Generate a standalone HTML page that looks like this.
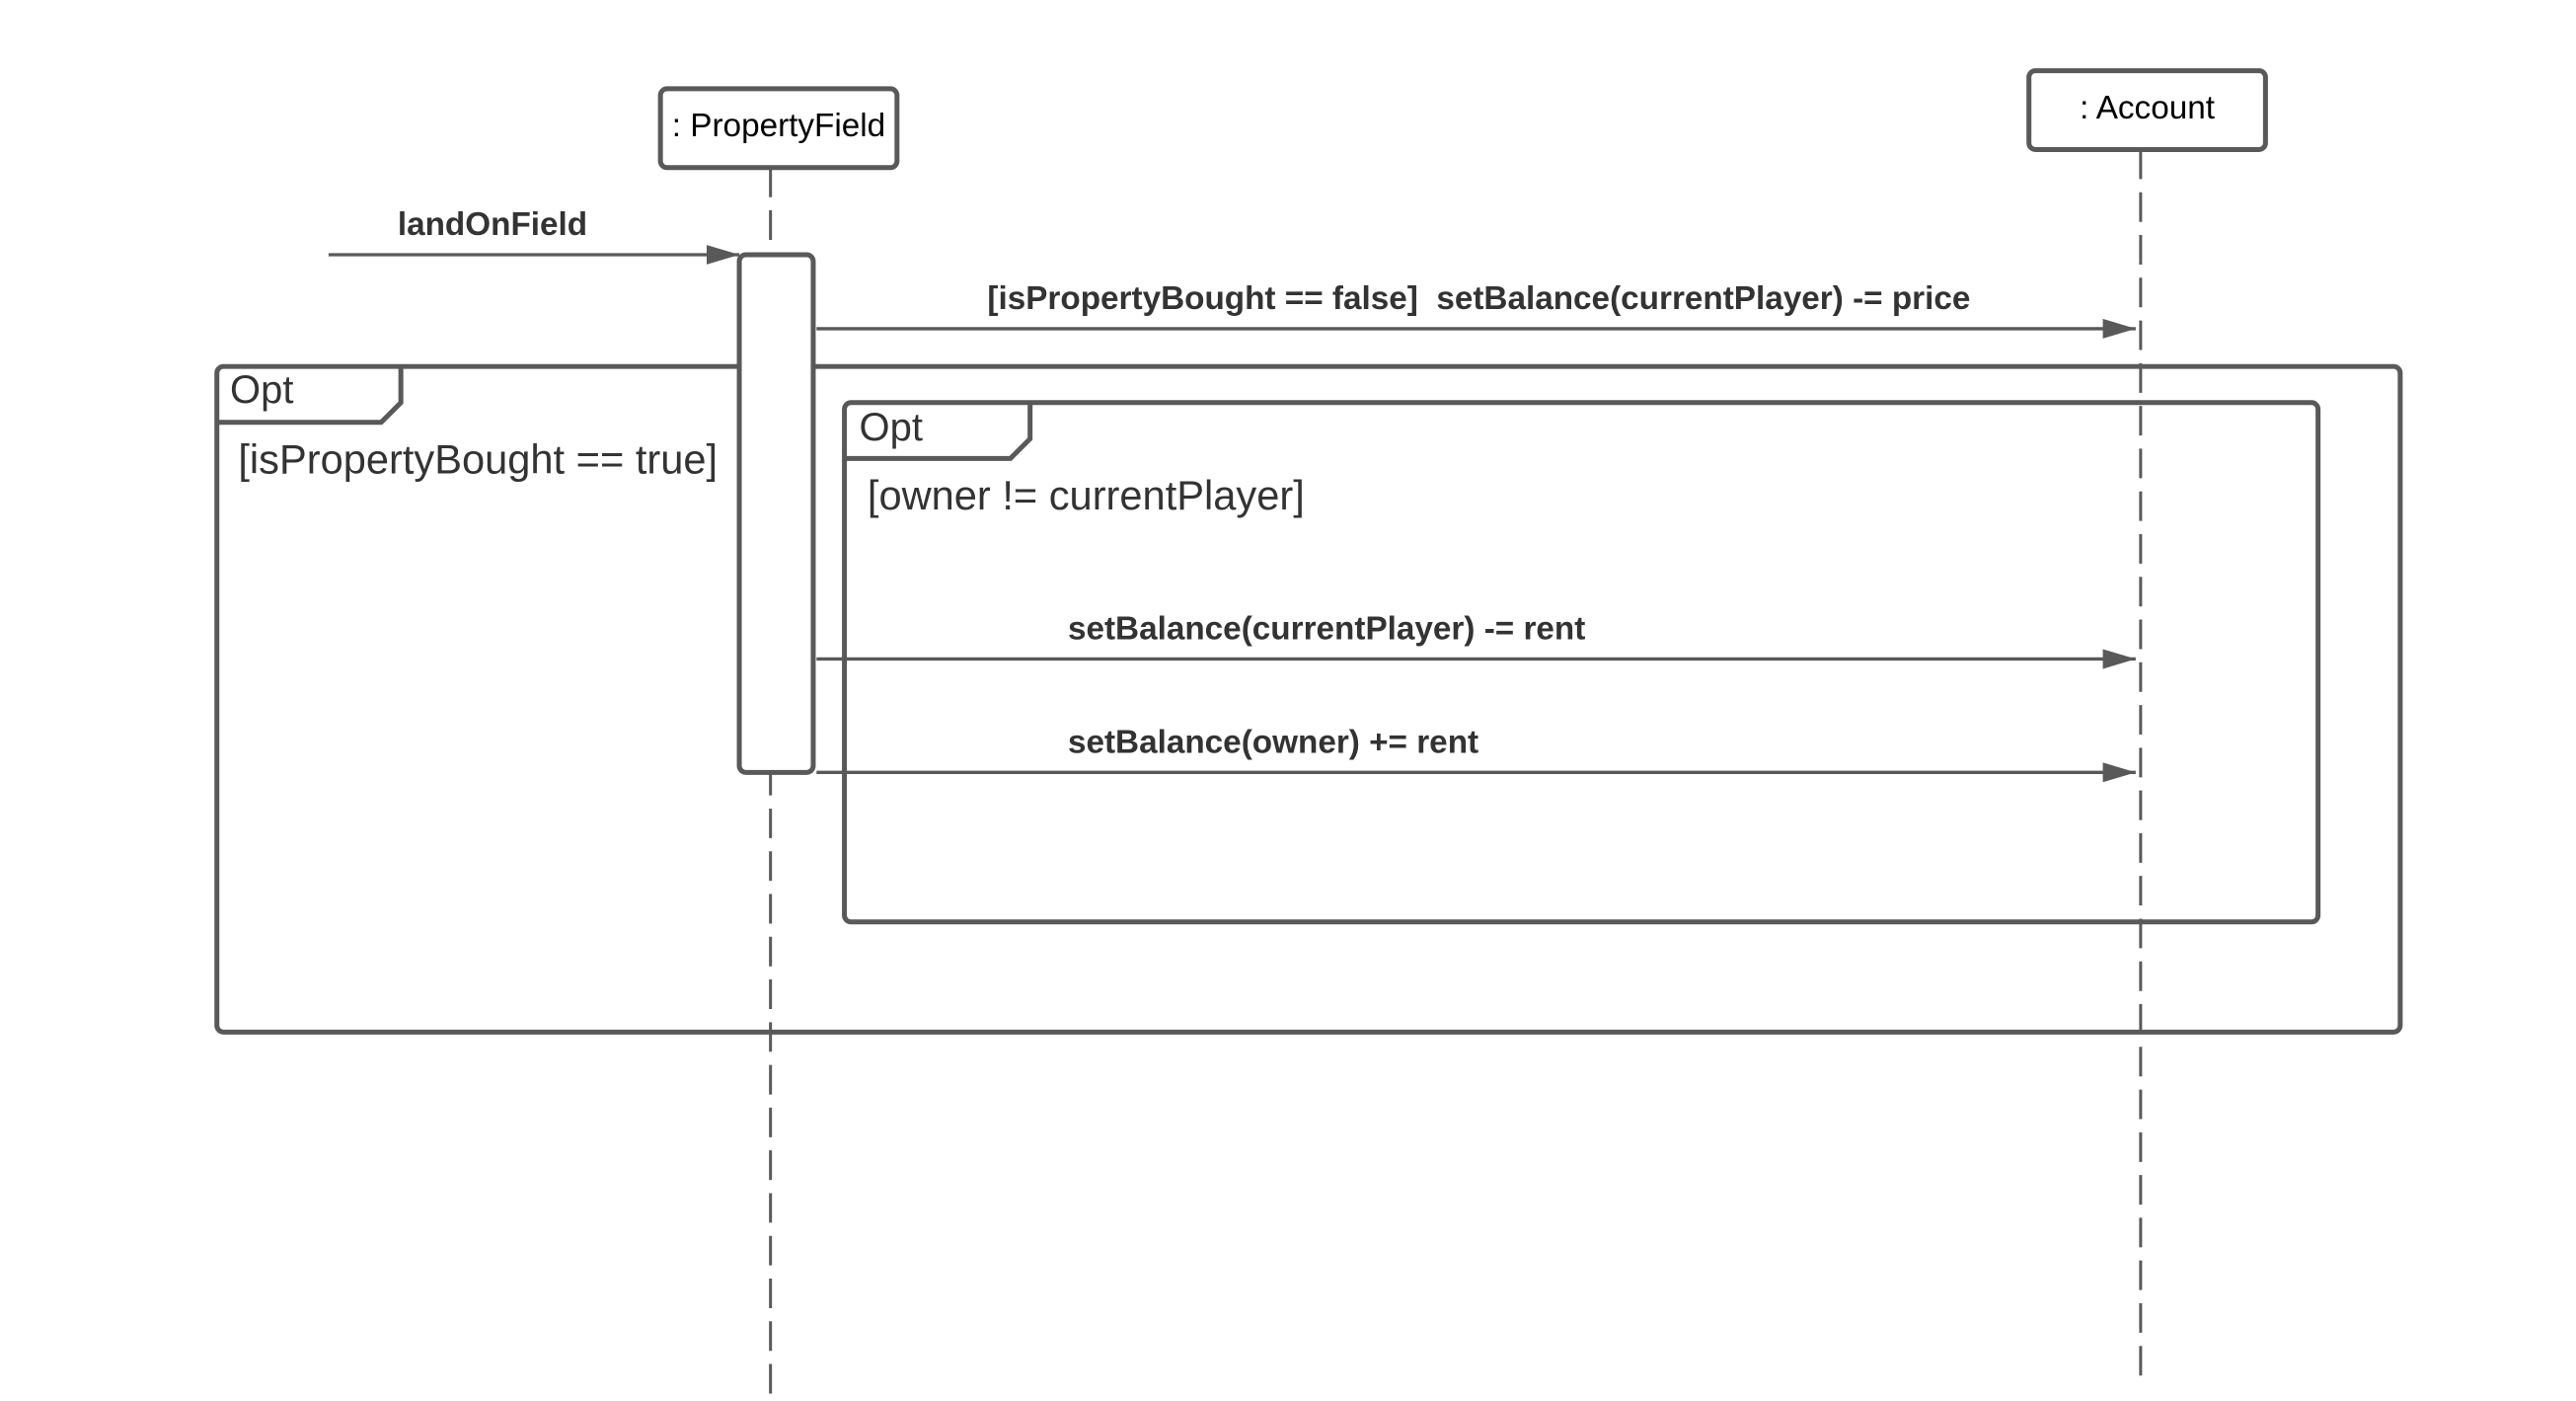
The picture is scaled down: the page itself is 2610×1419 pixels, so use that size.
<!DOCTYPE html>
<html><head><meta charset="utf-8"><style>html,body{margin:0;padding:0;background:#fff}svg{display:block}</style></head>
<body>
<svg width="2610" height="1419" viewBox="0 0 1568 852.5" xmlns="http://www.w3.org/2000/svg" font-family="Liberation Sans, sans-serif">
<defs>
<marker id="b" markerWidth="20" markerHeight="12" refX="20" refY="6" orient="auto" markerUnits="userSpaceOnUse"><path d="M0,0 L20,6 L0,12 z" fill="#595959"/></marker></defs>
<g stroke="#595959" fill="none">
<line x1="469" y1="102" x2="469" y2="852" stroke-width="1.8" stroke-dasharray="18,8"/>
<line x1="1303" y1="91" x2="1303" y2="845" stroke-width="1.8" stroke-dasharray="18,8"/>
<rect x="402" y="54" width="144" height="48" rx="4" stroke-width="3" fill="#fff"/>
<rect x="1235" y="43" width="144" height="48" rx="4" stroke-width="3" fill="#fff"/>
<rect x="132" y="223" width="1329" height="405" rx="4" stroke-width="3"/>
<path d="M132,257 H232 L244,245 V223" stroke-width="3"/>
<rect x="514" y="245" width="897" height="316" rx="4" stroke-width="3"/>
<path d="M514,279 H615 L627,267 V245" stroke-width="3"/>
<rect x="450" y="155" width="45" height="315" rx="4" stroke-width="3" fill="#fff"/>
<line x1="200" y1="155" x2="450" y2="155" stroke-width="2" marker-end="url(#b)"/>
<line x1="497" y1="200" x2="1300" y2="200" stroke-width="2" marker-end="url(#b)"/>
<line x1="497" y1="401" x2="1300" y2="401" stroke-width="2" marker-end="url(#b)"/>
<line x1="497" y1="470" x2="1300" y2="470" stroke-width="2" marker-end="url(#b)"/>
</g>
<g fill="#000" font-size="20" text-anchor="middle">
<text x="474" y="83">: PropertyField</text>
<text x="1307" y="72">: Account</text>
</g>
<g fill="#333" font-size="20" font-weight="bold">
<text x="242" y="143">landOnField</text>
<text x="601" y="188" xml:space="preserve">[isPropertyBought == false]  setBalance(currentPlayer) -= price</text>
<text x="650" y="389">setBalance(currentPlayer) -= rent</text>
<text x="650" y="458">setBalance(owner) += rent</text>
</g>
<g fill="#333" font-size="25">
<text x="140" y="245" font-size="24">Opt</text>
<text x="145" y="288">[isPropertyBought == true]</text>
<text x="523" y="268" font-size="24">Opt</text>
<text x="528" y="310">[owner != currentPlayer]</text>
</g>
</svg>
</body></html>
